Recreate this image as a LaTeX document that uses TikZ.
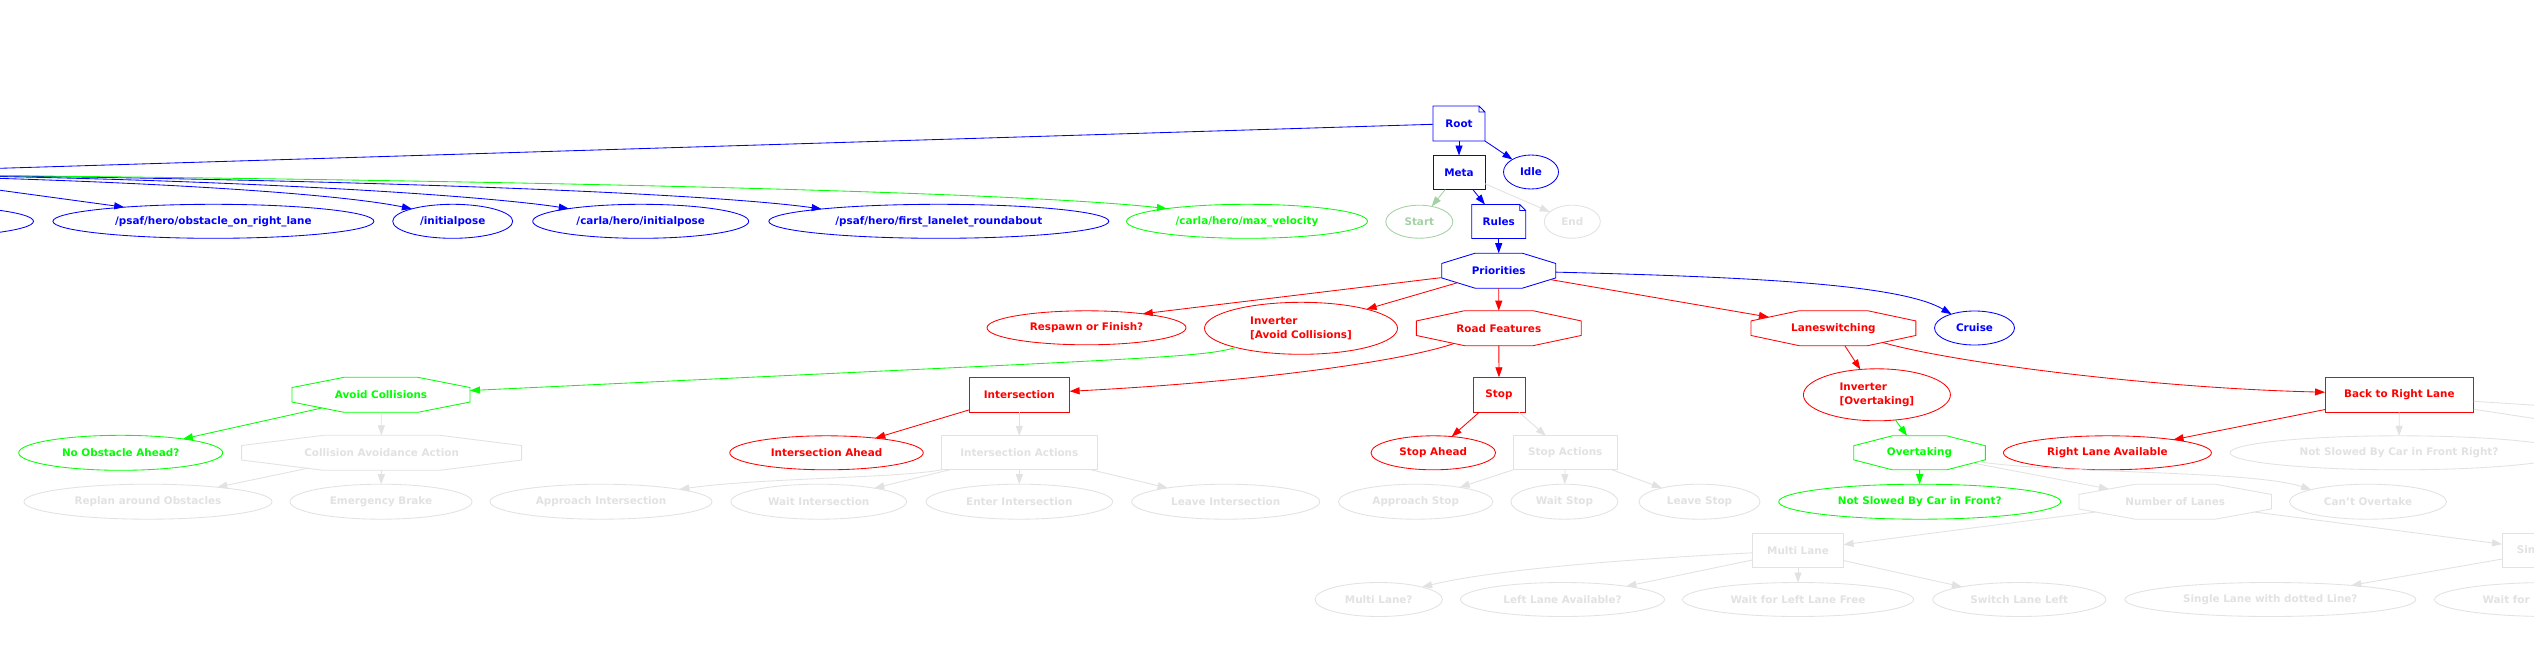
\documentclass[tikz,border=0pt]{standalone}
\usepackage{fontspec}
\setmainfont{DejaVu Sans}
\usetikzlibrary{shapes.geometric,arrows.meta,calc}
\definecolor{gvblue}{HTML}{0000FF}
\definecolor{gvred}{HTML}{FF0000}
\definecolor{gvgreen}{HTML}{00FF00}
\definecolor{gvgray}{HTML}{E2E2E2}
\definecolor{gvpale}{HTML}{A3D1A3}
\tikzset{
 lbl/.style={font=\bfseries\fontsize{10.4}{14.3}\selectfont, inner sep=0pt, outer sep=0pt, align=center},
 ell/.style={lbl, ellipse, draw=#1, text=#1, line width=0.85pt},
 rbox/.style={lbl, rectangle, draw=#1, text=#1, line width=0.85pt},
 ptxt/.style={lbl, rectangle, text=#1},
 oct/.style={regular polygon, regular polygon sides=8, minimum size=100pt, inner sep=0pt, outer sep=0pt, draw=#1, line width=0.85pt, transform shape},
 conn/.style={line width=0.85pt, draw=#1, -{Triangle[length=10pt,width=7pt]}},
}
\newcommand\octnode[7]{%
 \begin{scope}[shift={(#2,#3)}]
 \node[oct=#6, xscale=#4/92.39, yscale=#5/92.39] (#1) at (0,0) {};
 \node[ptxt=#6] (#1L) at (0,0) {#7};
 \end{scope}}
\newcommand\notenode[7]{%
 \node[ptxt=#6, minimum width=#4, minimum height=#5] (#1) at (#2,#3) {#7};
 \draw[draw=#6, line width=0.85pt] ([xshift=-6pt]#1.north east) -- (#1.north west) -- (#1.south west) -- (#1.south east) -- ([yshift=-6pt]#1.north east) -- cycle
   ([xshift=-6pt]#1.north east) -- ([xshift=-6pt,yshift=-6pt]#1.north east) -- ([yshift=-6pt]#1.north east);}
\begin{document}
\begin{tikzpicture}[x=1pt,y=-1pt]
\useasboundingbox (0,0) rectangle (2534,669);
\fill[white] (0,0) rectangle (2534,669);
\clip (0,0) rectangle (2534,669);

% ---- top
\notenode{root}{1459}{123.5}{52}{35}{gvblue}{Root}
\node[rbox=gvblue, minimum width=52, minimum height=34] (meta) at (1459,172.5) {Meta};
\node[ell=gvblue, minimum width=55, minimum height=34] (idle) at (1531,172) {Idle};
\node[ell=gvpale, minimum width=67, minimum height=33] (start) at (1419.3,221.7) {Start};
\notenode{rules}{1498.7}{221.5}{54}{34}{gvblue}{Rules}
\node[ell=gvgray, minimum width=56, minimum height=33] (end) at (1572.3,221.7) {End};
\octnode{prio}{1498.7}{270.7}{114}{35}{gvblue}{Priorities}

% ---- topics
\node[ell=gvblue, minimum width=287, minimum height=34] (tleft) at (-110,221.3) {};
\node[ell=gvblue, minimum width=321, minimum height=34] (tobs) at (213.4,221.3) {/psaf/hero/obstacle\_on\_right\_lane};
\node[ell=gvblue, minimum width=120, minimum height=34] (tinit) at (452.7,221.3) {/initialpose};
\node[ell=gvblue, minimum width=216, minimum height=34] (tcinit) at (640.7,221.3) {/carla/hero/initialpose};
\node[ell=gvblue, minimum width=340, minimum height=34] (tfirst) at (938.8,221.3) {/psaf/hero/first\_lanelet\_roundabout};
\node[ell=gvgreen, minimum width=241, minimum height=34] (tmaxv) at (1247,221.3) {/carla/hero/max\_velocity};
\coordinate (rootT) at (-300,177.5);
\coordinate (src) at (-200,174);
\coordinate (srcO) at (-200,163);

% ---- level 2
\node[ell=gvred, minimum width=199, minimum height=34] (resp) at (1086.5,327.8) {Respawn or Finish?};
\node[ell=gvred, minimum width=193, minimum height=52, align=left] (invac) at (1301,328.3) {Inverter\\{[Avoid Collisions]}};
\octnode{road}{1498.8}{328.2}{165}{35}{gvred}{Road Features}
\octnode{lane}{1833.4}{328.2}{165}{35}{gvred}{Laneswitching}
\node[ell=gvblue, minimum width=80, minimum height=34] (cruise) at (1974.5,328) {Cruise};

% ---- level 3
\octnode{avoid}{381}{394.8}{178}{35}{gvgreen}{Avoid Collisions}
\node[rbox=gvred, minimum width=100.6, minimum height=35] (inter) at (1019.3,394.8) {Intersection};
\node[rbox=gvred, minimum width=52, minimum height=35] (stop) at (1499,394.8) {Stop};
\node[ell=gvred, minimum width=147, minimum height=52, align=left] (invov) at (1876.9,394.8) {Inverter\\{[Overtaking]}};
\node[rbox=gvred, minimum width=148.6, minimum height=35] (back) at (2399.3,394.8) {Back to Right Lane};
\coordinate (offA) at (2620,410.7);
\coordinate (offB) at (2620,431.6);

% ---- level 4
\node[ell=gvgreen, minimum width=204, minimum height=35] (noobs) at (120.7,452.8) {No Obstacle Ahead?};
\octnode{caa}{381.6}{452.8}{280}{35}{gvgray}{Collision Avoidance Action}
\node[ell=gvred, minimum width=193.5, minimum height=34] (interahead) at (826.5,452.8) {Intersection Ahead};
\node[rbox=gvgray, minimum width=155.5, minimum height=34] (interact) at (1019.3,452.8) {Intersection Actions};
\node[ell=gvred, minimum width=124.6, minimum height=34] (stopahead) at (1433.3,452.8) {Stop Ahead};
\node[rbox=gvgray, minimum width=104.5, minimum height=34] (stopact) at (1565.3,452.8) {Stop Actions};
\octnode{overt}{1919.5}{452.8}{131.7}{34}{gvgreen}{Overtaking}
\node[ell=gvred, minimum width=208, minimum height=34] (rla) at (2107.4,452.8) {Right Lane Available};
\node[ell=gvgray, minimum width=338, minimum height=34] (nsright) at (2399,452.8) {Not Slowed By Car in Front Right?};

% ---- level 5
\node[ell=gvgray, minimum width=248, minimum height=35] (replan) at (148,501.7) {Replan around Obstacles};
\node[ell=gvgray, minimum width=182, minimum height=35] (ebrake) at (381,501.7) {Emergency Brake};
\node[ell=gvgray, minimum width=222, minimum height=35] (appint) at (601,501.7) {Approach Intersection};
\node[ell=gvgray, minimum width=175.6, minimum height=35] (waitint) at (818.7,501.7) {Wait Intersection};
\node[ell=gvgray, minimum width=186.6, minimum height=35] (entint) at (1019.3,501.7) {Enter Intersection};
\node[ell=gvgray, minimum width=188, minimum height=35] (leaveint) at (1225.7,501.7) {Leave Intersection};
\node[ell=gvgray, minimum width=154.5, minimum height=35] (appstop) at (1415.7,501.7) {Approach Stop};
\node[ell=gvgray, minimum width=107, minimum height=35] (waitstop) at (1564.4,501.7) {Wait Stop};
\node[ell=gvgray, minimum width=121, minimum height=35] (leavestop) at (1699.5,501.7) {Leave Stop};
\node[ell=gvgreen, minimum width=282, minimum height=35] (nsfront) at (1919.7,501.7) {Not Slowed By Car in Front?};
\octnode{numlanes}{2175.2}{501.7}{192.5}{35}{gvgray}{Number of Lanes}
\node[ell=gvgray, minimum width=157, minimum height=35] (cantov) at (2368,501.7) {Can\char"27{}t Overtake};

% ---- level 6/7
\node[rbox=gvgray, minimum width=91, minimum height=34] (multi) at (1798,550.5) {Multi Lane};
\node[rbox=gvgray, minimum width=98, minimum height=34] (single) at (2551,550.5) {Single Lane};
\node[ell=gvgray, minimum width=127.4, minimum height=34] (mlq) at (1378.7,599.5) {Multi Lane?};
\node[ell=gvgray, minimum width=204, minimum height=34] (llaq) at (1562.5,599.5) {Left Lane Available?};
\node[ell=gvgray, minimum width=231, minimum height=34] (wllf) at (1798,599.5) {Wait for Left Lane Free};
\node[ell=gvgray, minimum width=173, minimum height=34] (sll) at (2019.3,599.5) {Switch Lane Left};
\node[ell=gvgray, minimum width=291, minimum height=34] (sldl) at (2270.3,599.5) {Single Lane with dotted Line?};
\node[ell=gvgray, minimum width=231, minimum height=34] (wllf2) at (2550,599.5) {Wait for Left Lane Free};

% ---- edges
\draw[conn=gvblue] (root) -- (meta);
\draw[conn=gvblue] (root) -- (idle);
\draw[conn=gvblue] (root) -- (rootT);
\draw[conn=gvpale] (meta) -- (start);
\draw[conn=gvblue] (meta) -- (rules);
\draw[conn=gvgray] (meta) -- (end);
\draw[conn=gvblue] (rules) -- (prio);
\draw[conn=gvblue] (prio) .. controls (1750,277) and (1900,284) .. (cruise.149);

\draw[conn=gvblue] (srcO) -- (tobs.171.5);
\draw[conn=gvblue] (src) .. controls (100,178) and (330,192) .. (tinit.163);
\draw[conn=gvblue] (src) .. controls (200,176) and (480,195) .. (tcinit.170);
\draw[conn=gvblue] (src) .. controls (300,177) and (700,192) .. (tfirst.174);
\draw[conn=gvgreen] (src) .. controls (400,178) and (1000,190) .. (tmaxv.171);

\draw[conn=gvred] (prio) -- (resp.14);
\draw[conn=gvred] (prio) -- (invac);
\draw[conn=gvred] (prio) -- (road);
\draw[conn=gvred] (prio) -- (lane);
\draw[conn=gvred] (road) .. controls (1400,362) and (1250,382) .. (inter.4);
\draw[conn=gvred] (road) -- (stop);
\draw[conn=gvred] (inter) -- (interahead);
\draw[conn=gvgray] (inter) -- (interact);
\draw[conn=gvgray] (interact.south west) .. controls (900,478) and (760,478) .. (appint.9);
\draw[conn=gvgray] (interact) -- (waitint);
\draw[conn=gvgray] (interact) -- (entint);
\draw[conn=gvgray] (interact) -- (leaveint);
\draw[conn=gvred] (stop) -- (stopahead);
\draw[conn=gvgray] (stop) -- (stopact);
\draw[conn=gvgray] (stopact) -- (appstop);
\draw[conn=gvgray] (stopact) -- (waitstop);
\draw[conn=gvgray] (stopact) -- (leavestop);
\draw[conn=gvgreen] (invac) .. controls (1200,358) and (1150,358) .. (avoid);
\draw[conn=gvgreen] (avoid) -- (noobs);
\draw[conn=gvgray] (avoid) -- (caa);
\draw[conn=gvgray] (caa) -- (replan);
\draw[conn=gvgray] (caa) -- (ebrake);
\draw[conn=gvred] (lane) -- (invov);
\draw[conn=gvred] (lane) .. controls (1950,362) and (2150,388) .. (back.178);
\draw[conn=gvgreen] (invov) -- (overt);
\draw[conn=gvgreen] (overt) -- (nsfront);
\draw[conn=gvgray] (overt) -- (numlanes);
\draw[conn=gvgray] (overt) .. controls (2060,474) and (2250,470) .. (cantov.168);
\draw[conn=gvred] (back) -- (rla);
\draw[conn=gvgray] (back) -- (nsright);
\draw[conn=gvgray] (back.-5) -- (offA);
\draw[conn=gvgray] (back.-11) -- (offB);
\draw[conn=gvgray] (numlanes) -- (multi);
\draw[conn=gvgray] (numlanes) -- (single);
\draw[conn=gvgray] (multi) .. controls (1650,558) and (1500,568) .. (mlq.16);
\draw[conn=gvgray] (multi) -- (llaq);
\draw[conn=gvgray] (multi) -- (wllf);
\draw[conn=gvgray] (multi) -- (sll);
\draw[conn=gvgray] (single) -- (sldl);
\draw[conn=gvgray] (single) -- (wllf2);
\end{tikzpicture}
\end{document}
